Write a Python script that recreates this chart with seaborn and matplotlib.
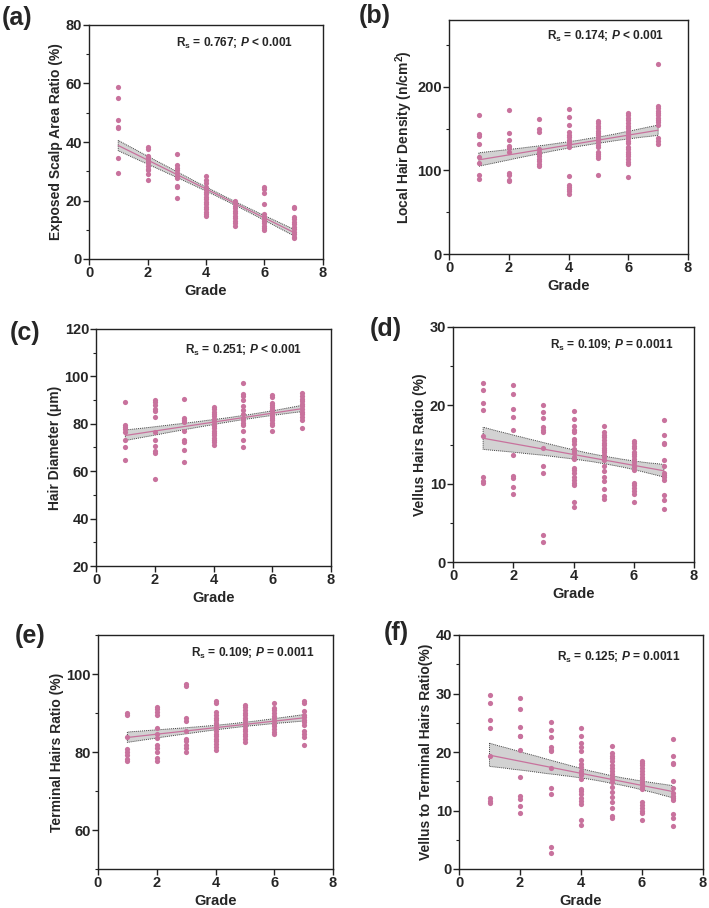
import matplotlib
matplotlib.use("Agg")
import matplotlib.pyplot as plt
from matplotlib.ticker import MultipleLocator
import numpy as np
import pandas as pd
import seaborn as sns

sns.set_style("ticks")
plt.rcParams['font.family'] = ['Liberation Sans', 'DejaVu Sans']
plt.rcParams['font.weight'] = 'bold'
plt.rcParams['axes.labelweight'] = 'bold'
plt.rcParams['mathtext.fontset'] = 'custom'
plt.rcParams['mathtext.rm'] = 'Liberation Sans:bold'
plt.rcParams['mathtext.it'] = 'Liberation Sans:bold:italic'
plt.rcParams['mathtext.bf'] = 'Liberation Sans:bold'

grades = [1, 2, 3, 4, 5, 6, 7]

# values per grade
scalp = [
    [58.7, 55.2, 47.5, 45.2, 44.7, 34.6, 29.3],
    [38.2, 37.6, 35.3, 34.8, 34.2, 33.6, 32.7, 31.8, 30.9, 30.4, 28.9, 27.0],
    [35.8, 32.1, 31.2, 30.4, 29.3, 28.4, 27.6, 25.0, 24.5, 21.0],
    [28.5, 27.0, 25.9, 24.7, 23.8, 23.0, 22.2, 21.3, 20.4, 19.6, 18.8, 17.9, 17.0, 16.2, 15.4, 14.8],
    [19.8, 19.0, 18.1, 17.3, 16.5, 15.6, 14.7, 13.9, 13.1, 12.2, 11.4],
    [24.7, 23.8, 22.7, 18.8, 15.4, 14.5, 13.7, 13.0, 12.2, 11.4, 10.7, 9.9],
    [17.9, 17.3, 14.5, 13.6, 12.8, 12.0, 11.0, 10.3, 9.3, 8.5, 7.6, 7.1],
]
density = [
    [166.3, 143.3, 141.3, 131.3, 115.8, 108.7, 94.8, 89.3],
    [171.8, 145.2, 136.5, 129.4, 126.6, 122.6, 97.2, 94.0, 88.9, 87.7],
    [161.9, 149.6, 145.6, 125.8, 122.6, 119.8, 116.7, 113.9, 111.1, 107.9, 105.2],
    [173.4, 163.5, 154.4, 145.6, 142.5, 139.7, 136.9, 134.5, 131.8, 128.6, 92.9, 82.9, 80.2, 77.4, 75.0, 72.2],
    [159.5, 156.3, 153.6, 150.8, 147.6, 144.8, 142.1, 139.3, 136.5, 133.7, 131.0, 127.8, 122.6, 119.8, 117.1, 115.1, 94.8],
    [168.7, 165.9, 163.1, 160.3, 157.1, 153.6, 150.4, 147.6, 144.4, 141.7, 138.9, 135.7, 132.5, 128.6, 125.8, 122.6,
     119.8, 116.7, 113.1, 109.9, 107.1, 92.1],
    [227.4, 177.4, 174.2, 171.4, 168.7, 165.9, 163.1, 160.3, 157.5, 154.8, 138.5, 134.9, 131.3],
]
diameter = [
    [89.2, 79.6, 78.6, 77.6, 76.7, 73.2, 70.3, 64.7],
    [90.2, 89.2, 88.1, 86.4, 85.2, 82.8, 76.4, 73.3, 70.8, 68.6, 67.7, 56.6],
    [90.6, 82.5, 81.7, 80.7, 77.1, 73.3, 72.5, 68.9, 63.7],
    [87.1, 86.1, 85.1, 84.1, 83.1, 82.1, 81.1, 80.1, 79.1, 78.1, 77.1, 76.2, 75.2, 74.2, 73.2, 72.2, 71.2],
    [97.3, 92.5, 91.6, 90.2, 87.5, 85.9, 84.3, 82.4, 81.4, 80.4, 79.6, 77.1, 73.3, 70.1],
    [92.3, 91.3, 88.9, 88.1, 87.1, 86.1, 85.2, 84.3, 83.2, 82.4, 81.4, 80.4, 79.6, 77.1],
    [92.8, 91.8, 90.6, 89.5, 88.5, 87.5, 86.4, 85.0, 84.0, 82.8, 81.4, 78.3],
]
vellus = [
    [22.9, 22.0, 20.3, 19.4, 16.1, 10.8, 10.4, 10.1],
    [22.6, 21.4, 19.5, 18.5, 16.9, 13.6, 11.0, 10.7, 9.6, 8.7],
    [20.0, 19.2, 18.4, 17.2, 16.9, 16.6, 14.6, 12.2, 11.3, 3.5, 2.5],
    [19.3, 18.3, 17.3, 16.9, 16.6, 15.7, 15.5, 15.1, 14.4, 14.2, 13.9, 13.4, 13.1, 12.0, 11.7, 11.3, 10.8, 10.5,
     10.1, 9.8, 7.6, 7.0],
    [17.3, 16.6, 16.2, 15.9, 15.6, 15.2, 14.9, 14.6, 14.3, 14.0, 13.7, 13.4, 13.0, 12.3, 11.6, 10.9, 10.3, 9.3,
     8.4, 8.0],
    [15.5, 15.2, 14.8, 14.5, 14.1, 13.8, 13.5, 13.1, 12.8, 12.4, 12.1, 11.8, 10.1, 9.8, 9.4, 9.1, 8.7, 7.6],
    [18.1, 16.2, 15.2, 15.1, 13.0, 12.2, 11.4, 11.1, 10.8, 10.5, 8.5, 7.9, 6.8],
]
terminal = [
    [90.0, 89.4, 83.9, 80.8, 80.1, 79.2, 78.3, 77.6],
    [91.5, 90.9, 90.2, 89.4, 86.2, 84.7, 83.5, 81.7, 80.9, 80.0, 78.5, 77.6],
    [97.5, 96.8, 88.7, 88.0, 85.5, 83.4, 82.8, 81.7, 80.9, 80.1],
    [93.2, 92.6, 90.2, 89.5, 88.8, 88.1, 87.5, 86.8, 86.1, 85.4, 84.7, 84.0, 83.4, 82.7, 82.0, 81.3, 80.6],
    [92.1, 91.5, 90.8, 90.1, 89.4, 88.7, 88.1, 87.4, 86.7, 86.0, 85.3, 84.7, 84.0, 83.3, 82.6],
    [92.6, 91.3, 90.7, 90.0, 89.3, 88.6, 87.9, 87.3, 86.6, 85.9, 85.2, 84.6],
    [93.2, 92.6, 90.4, 89.6, 89.0, 88.3, 87.6, 87.0, 85.5, 84.7, 83.9, 81.9],
]
v_to_t = [
    [29.8, 28.4, 25.5, 24.1, 19.4, 12.2, 11.7, 11.2],
    [29.2, 27.3, 24.3, 22.8, 22.7, 20.4, 15.8, 12.4, 12.0, 10.7, 9.5],
    [25.1, 23.8, 22.6, 20.8, 20.4, 20.1, 17.2, 13.9, 12.9, 3.7, 2.7],
    [24.1, 22.7, 21.5, 20.8, 20.2, 18.6, 17.9, 17.4, 16.8, 16.4, 16.0, 15.4, 13.7, 13.3, 12.8, 12.2, 11.7, 11.1,
     8.4, 7.5],
    [21.0, 19.8, 19.4, 18.9, 18.5, 17.7, 17.2, 16.8, 16.3, 15.8, 15.4, 14.9, 14.1, 13.2, 12.3, 11.5, 10.4, 9.1, 8.8],
    [18.5, 18.1, 17.7, 17.2, 16.8, 16.3, 15.8, 15.4, 14.9, 14.5, 14.0, 13.6, 11.4, 10.9, 10.5, 10.0, 9.6, 8.3],
    [22.3, 19.4, 18.1, 17.9, 15.0, 13.9, 13.0, 12.5, 12.1, 11.8, 9.4, 8.8, 7.3],
]

labels = ['(a)', '(b)', '(c)', '(d)', '(e)', '(f)']
ylabels = ['Exposed Scalp Area Ratio (%)', 'Local Hair Density (n/cm$^{2}$)', 'Hair Diameter (\u03bcm)',
           'Vellus Hairs Ratio (%)', 'Terminal Hairs Ratio (%)', 'Vellus to Terminal Hairs Ratio(%)']
stats = ['R$_{\\mathrm{s}}$ = 0.767; $P$ < 0.001', 'R$_{\\mathrm{s}}$ = 0.174; $P$ < 0.001',
         'R$_{\\mathrm{s}}$ = 0.251; $P$ < 0.001', 'R$_{\\mathrm{s}}$ = 0.109; $P$ = 0.0011',
         'R$_{\\mathrm{s}}$ = 0.109; $P$ = 0.0011', 'R$_{\\mathrm{s}}$ = 0.125; $P$ = 0.0011']
series = [scalp, density, diameter, vellus, terminal, v_to_t]
ylims = [(0, 80), (0, 280), (20, 120), (0, 30), (50, 110), (0, 40)]
ymajor = [20, 100, 20, 10, 20, 10]
yminor = [10, 50, 10, 5, 10, 5]
ci_level = [72, 84, 80, 84, 80, 84]

W, H = 709, 908
# axes boxes in pixels: left, top, right, bottom
boxes = [(89, 25, 323, 259), (449, 20, 688, 254), (96, 329, 331, 566),
         (453, 327, 694, 562), (98, 635, 333, 869), (459, 635, 703, 869)]
letter_pos = [(2, 18), (359, 16), (10, 333), (370, 329), (15, 636), (384, 633)]
stat_pos = [(0.87, 0.92), (0.90, 0.93), (0.876, 0.91), (0.917, 0.92), (0.92, 0.92), (0.91, 0.905)]

pink = '#C8729D'

fig = plt.figure(figsize=(W / 100, H / 100), dpi=100)

for i in range(6):
    l, t, r, b = boxes[i]
    ax = fig.add_axes([l / W, 1 - b / H, (r - l) / W, (b - t) / H])
    xs, ys = [], []
    for g, vals in zip(grades, series[i]):
        xs += [g] * len(vals)
        ys += vals
    df = pd.DataFrame({'Grade': xs, 'val': ys})
    sns.regplot(data=df, x='Grade', y='val', ax=ax, ci=ci_level[i], n_boot=1000, seed=1, truncate=True,
                scatter_kws={'s': 14, 'color': pink, 'linewidths': 0, 'alpha': 1},
                line_kws={'color': pink, 'lw': 0.9})
    band = ax.collections[-1]
    band.set_facecolor('#d2d2d2')
    band.set_alpha(1)
    band.set_edgecolor('#444444')
    band.set_linestyle((0, (1, 1)))
    band.set_linewidth(0.7)
    # bring scatter on top of the band
    ax.collections[0].set_zorder(3)

    ax.set_xlim(0, 8)
    ax.set_ylim(*ylims[i])
    ax.xaxis.set_major_locator(MultipleLocator(2))
    ax.yaxis.set_major_locator(MultipleLocator(ymajor[i]))
    ax.yaxis.set_minor_locator(MultipleLocator(yminor[i]))
    ax.tick_params(axis='both', which='major', labelsize=10.5, length=4, width=1, color='#222222', pad=1)
    ax.tick_params(axis='y', which='minor', length=2.5, width=0.8, color='#222222')
    for lab in ax.get_xticklabels() + ax.get_yticklabels():
        lab.set_fontweight('bold')
    for s in ax.spines.values():
        s.set_linewidth(1)
        s.set_color('#222222')
    ax.set_xlabel('Grade', fontsize=10.5, fontweight='bold', labelpad=3)
    ax.set_ylabel(ylabels[i], fontsize=10, fontweight='bold', labelpad=2)
    ax.text(stat_pos[i][0], stat_pos[i][1], stats[i], transform=ax.transAxes, ha='right', va='center',
            fontsize=8.6, fontweight='bold')
    fig.text(letter_pos[i][0] / W, 1 - letter_pos[i][1] / H, labels[i], ha='left', va='center',
             fontsize=18, fontweight='bold')

fig.savefig('out.png', dpi=100)
